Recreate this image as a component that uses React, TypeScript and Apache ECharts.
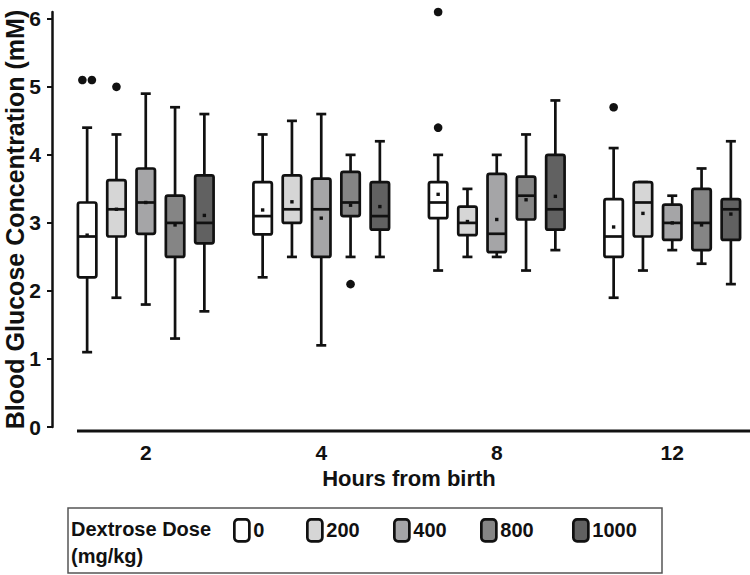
import React, { useEffect, useRef } from "react";
import * as echarts from "echarts";

// Categories
const hours = ["2", "4", "8", "12"];
const doses = ["0", "200", "400", "800", "1000"];
const doseFills = ["#ffffff", "#d6d6d6", "#a5a5a7", "#858585", "#616161"];
const yTicks = [0, 1, 2, 3, 4, 5, 6];

// [min, Q1, median, Q3, max] per hour (2, 4, 8, 12)
const dose0 = [[1.1, 2.2, 2.8, 3.3, 4.4], [2.2, 2.83, 3.1, 3.6, 4.3], [2.3, 3.07, 3.3, 3.6, 4.0], [1.9, 2.5, 2.8, 3.35, 4.1]];
const dose200 = [[1.9, 2.8, 3.2, 3.63, 4.3], [2.5, 3.0, 3.2, 3.7, 4.5], [2.5, 2.82, 3.0, 3.24, 3.5], [2.3, 2.8, 3.3, 3.6, 3.6]];
const dose400 = [[1.8, 2.84, 3.3, 3.8, 4.9], [1.2, 2.5, 3.2, 3.65, 4.6], [2.5, 2.57, 2.84, 3.72, 4.0], [2.6, 2.75, 3.0, 3.27, 3.4]];
const dose800 = [[1.3, 2.5, 3.0, 3.4, 4.7], [2.5, 3.1, 3.3, 3.75, 4.0], [2.3, 3.05, 3.4, 3.68, 4.3], [2.4, 2.6, 3.0, 3.5, 3.8]];
const dose1000 = [[1.7, 2.7, 3.0, 3.7, 4.6], [2.5, 2.9, 3.1, 3.6, 4.2], [2.6, 2.9, 3.2, 4.0, 4.8], [2.1, 2.75, 3.2, 3.35, 4.2]];

// means per hour
const mean0 = [2.82, 3.19, 3.42, 2.94];
const mean200 = [3.2, 3.31, 3.02, 3.14];
const mean400 = [3.3, 3.07, 3.05, 3.0];
const mean800 = [2.97, 3.26, 3.34, 2.97];
const mean1000 = [3.11, 3.24, 3.39, 3.13];

// outliers: [hour index, dose index, value]
const outliers = [
  [0, 0, 5.1],
  [0, 0, 5.1],
  [0, 1, 5.0],
  [1, 3, 2.1],
  [2, 0, 6.1],
  [2, 0, 4.4],
  [3, 0, 4.7],
];

const stats = [dose0, dose200, dose400, dose800, dose1000];
const means = [mean0, mean200, mean400, mean800, mean1000];

const SLOT = 0.167; // distance between box centres, fraction of band
const BOXW = 0.105; // box width, fraction of band
const CAP = 10;
const LW = 2.7;
const INK = "#111";
const FONT = "'Liberation Sans', Arial, sans-serif";

function boxRenderer(doseIdx: number, fill: string) {
  return (params: any, api: any) => {
    const h = api.value(0);
    const band = api.size([1, 0])[0];
    const cx = api.coord([h, 0])[0] + (doseIdx - 2) * band * SLOT;
    const y = (k: number) => api.coord([h, api.value(k)])[1];
    const yMin = y(1), yQ1 = y(2), yMed = y(3), yQ3 = y(4), yMax = y(5), yMean = y(6);
    const w = band * BOXW;
    const ls = { stroke: INK, lineWidth: LW };
    return {
      type: "group",
      children: [
        { type: "line", shape: { x1: cx, y1: yQ1, x2: cx, y2: yMin }, style: ls },
        { type: "line", shape: { x1: cx, y1: yQ3, x2: cx, y2: yMax }, style: ls },
        { type: "line", shape: { x1: cx - CAP / 2, y1: yMin, x2: cx + CAP / 2, y2: yMin }, style: ls },
        { type: "line", shape: { x1: cx - CAP / 2, y1: yMax, x2: cx + CAP / 2, y2: yMax }, style: ls },
        {
          type: "rect",
          shape: { x: cx - w / 2, y: yQ3, width: w, height: yQ1 - yQ3, r: 2 },
          style: { fill, stroke: INK, lineWidth: LW },
        },
        { type: "line", shape: { x1: cx - w / 2, y1: yMed, x2: cx + w / 2, y2: yMed }, style: ls },
        { type: "rect", shape: { x: cx - 1.7, y: yMean - 1.7, width: 3.4, height: 3.4 }, style: { fill: INK } },
      ],
    };
  };
}

function outlierRenderer(params: any, api: any) {
  const h = api.value(0);
  const v = api.value(1);
  const d = api.value(2);
  const band = api.size([1, 0])[0];
  // spread identical values side by side
  const same = outliers.filter((o) => o[0] === h && o[1] === d && o[2] === v);
  const idx = outliers
    .slice(0, params.dataIndex)
    .filter((o) => o[0] === h && o[1] === d && o[2] === v).length;
  const jitter = (idx - (same.length - 1) / 2) * 9.5;
  const p = api.coord([h, v]);
  return {
    type: "circle",
    shape: { cx: p[0] + (d - 2) * band * SLOT + jitter, cy: p[1], r: 4.3 },
    style: { fill: INK },
  };
}

const legendLefts = [233, 306, 393, 480, 572];

export default function App() {
  const ref = useRef<HTMLDivElement>(null);
  useEffect(() => {
    if (!ref.current) return;
    const chart = echarts.init(ref.current, null, { renderer: "svg" });

    const series: any[] = doses.map((d, i) => ({
      name: d,
      type: "custom",
      renderItem: boxRenderer(i, doseFills[i]),
      itemStyle: { color: doseFills[i], borderColor: INK, borderWidth: LW },
      encode: { x: 0, y: [1, 2, 3, 4, 5] },
      data: hours.map((_, h) => [h, ...stats[i][h], means[i][h]]),
      z: 2,
    }));
    series.push({
      name: "outliers",
      type: "custom",
      renderItem: outlierRenderer,
      encode: { x: 0, y: 1 },
      data: outliers.map((o) => [o[0], o[2], o[1]]),
      z: 3,
    });

    chart.setOption({
      animation: false,
      backgroundColor: "#ffffff",
      textStyle: { fontFamily: FONT },
      grid: { left: 58, right: -10, top: 12, bottom: 148, outerBoundsMode: "none", containLabel: false },
      xAxis: {
        type: "category",
        data: hours,
        axisLine: { show: false },
        axisTick: { show: false },
        splitLine: { show: false },
        axisLabel: { fontSize: 21, fontWeight: "bold", color: INK, fontFamily: FONT, margin: 15 },
        name: "Hours from birth",
        nameLocation: "middle",
        nameGap: 40,
        nameMoveOverlap: false,
        nameTextStyle: { fontSize: 22, fontWeight: "bold", color: INK, fontFamily: FONT },
      },
      yAxis: {
        type: "value",
        min: 0,
        max: 6.1,
        interval: 1,
        offset: 6,
        axisLine: { show: true, lineStyle: { color: INK, width: 2.5 } },
        axisTick: { show: true, length: 5, lineStyle: { color: INK, width: 2 }, customValues: yTicks },
        splitLine: { show: false },
        axisLabel: {
          fontSize: 21,
          fontWeight: "bold",
          color: INK,
          fontFamily: FONT,
          margin: 11,
          customValues: yTicks,
          formatter: (v: number) => (Number.isInteger(v) ? String(v) : ""),
        },
        name: "Blood Glucose Concentration (mM)",
        nameLocation: "middle",
        nameRotate: 90,
        nameGap: 25,
        nameMoveOverlap: false,
        nameTextStyle: { fontSize: 25, fontWeight: "bold", color: INK, fontFamily: FONT },
      },
      legend: doses.map((d, i) => ({
        data: [d],
        left: legendLefts[i],
        top: 518,
        padding: 0,
        itemWidth: 15,
        itemHeight: 22,
        icon: "roundRect",
        selectedMode: false,
        itemStyle: { borderColor: INK, borderWidth: LW },
        textStyle: { fontSize: 20, fontWeight: "bold", color: INK, fontFamily: FONT, padding: [0, 0, 0, -1] },
      })),
      graphic: [
        {
          type: "line",
          shape: { x1: 77, y1: 431, x2: 750, y2: 431 },
          style: { stroke: INK, lineWidth: 3 },
          z: 10,
        },
        {
          type: "rect",
          shape: { x: 68, y: 508, width: 594, height: 65 },
          style: { fill: "none", stroke: "#555", lineWidth: 1.5 },
        },
        {
          type: "text",
          left: 71,
          top: 515,
          style: {
            text: "Dextrose Dose\n(mg/kg)",
            font: `bold 20px ${FONT}`,
            fill: INK,
            lineHeight: 27,
          },
        },
      ],
      series,
    });
    return () => chart.dispose();
  }, []);
  return (
    <div
      ref={ref}
      style={{ position: "fixed", left: 0, top: 0, width: 750, height: 575, background: "#fff" }}
    />
  );
}
